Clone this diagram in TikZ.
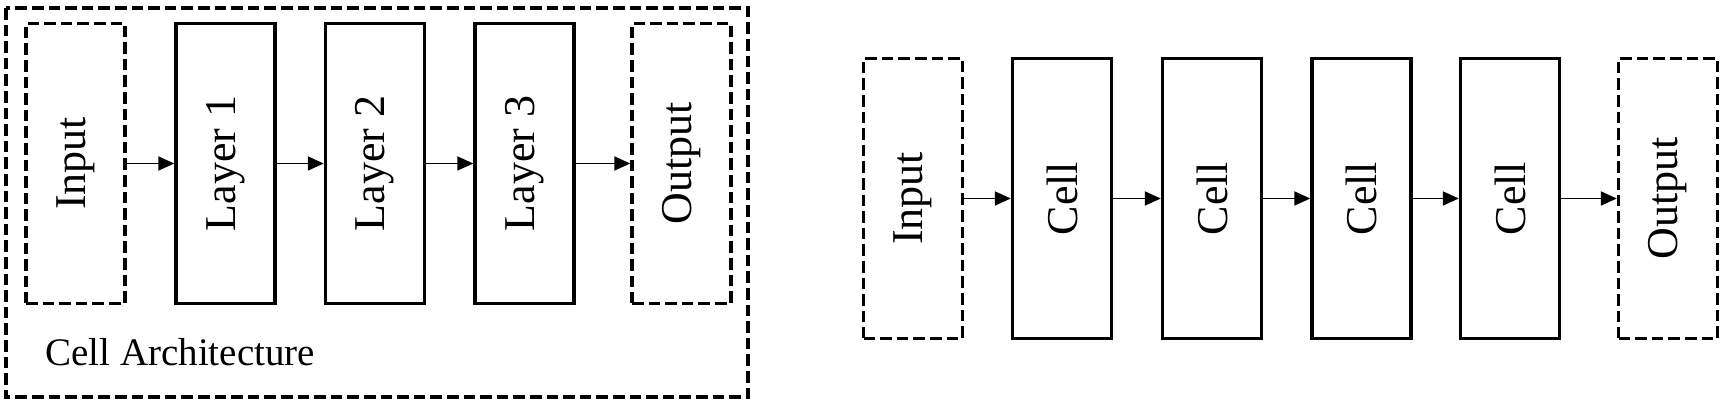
\documentclass[tikz,border=0pt]{standalone}
\usepackage{fontspec}
\setmainfont{Liberation Serif}
\usetikzlibrary{arrows.meta}
\newcommand{\vlab}[1]{\rotatebox{90}{#1}}
\newcommand{\boxline}{1.7pt}
\tikzset{
  block/.style={draw=black, line width=\boxline, minimum width=49.5pt, minimum height=140pt, inner sep=0pt, font=\fontsize{22}{26}\selectfont},
  ioblock/.style={block, dash pattern=on 5.8pt off 2.5pt},
  flow/.style={draw=black, line width=0.9pt, -{Triangle[length=8pt,width=7pt]}}
}

\begin{document}
\begin{tikzpicture}[x=0.5pt, y=-0.5pt]
  \useasboundingbox (0,0) rectangle (1724,405);

  % cell architecture
  \draw[line width=\boxline, dash pattern=on 5.8pt off 2.5pt] (6,8) rectangle (748,397);

  \node[ioblock] (in1) at (75.5,163.5) {\vlab{Input}};
  \node[block] (l1) at (225.5,163.5) {\vlab{Layer 1}};
  \node[block] (l2) at (375,163.5) {\vlab{Layer 2}};
  \node[block] (l3) at (524.5,163.5) {\vlab{Layer 3}};
  \node[ioblock] (out1) at (681.5,163.5) {\vlab{Output}};

  \node[anchor=base west, inner sep=0pt, font=\fontsize{19.5}{23}\selectfont] (cap) at (45,366) {Cell Architecture};

  \draw[flow] (in1) -- (l1);
  \draw[flow] (l1) -- (l2);
  \draw[flow] (l2) -- (l3);
  \draw[flow] (l3) -- (out1);

  % stacked cells
  \node[ioblock] (in2) at (913,198.5) {\vlab{Input}};
  \node[block] (c1) at (1062,198.5) {\vlab{Cell}};
  \node[block] (c2) at (1212,198.5) {\vlab{Cell}};
  \node[block] (c3) at (1361.5,198.5) {\vlab{Cell}};
  \node[block] (c4) at (1510,198.5) {\vlab{Cell}};
  \node[ioblock] (out2) at (1668,198.5) {\vlab{Output}};

  \draw[flow] (in2) -- (c1);
  \draw[flow] (c1) -- (c2);
  \draw[flow] (c2) -- (c3);
  \draw[flow] (c3) -- (c4);
  \draw[flow] (c4) -- (out2);
\end{tikzpicture}
\end{document}
